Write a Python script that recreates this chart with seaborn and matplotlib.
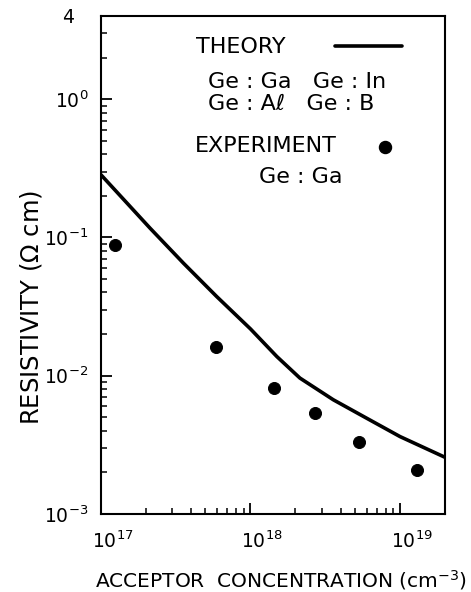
import numpy as np
import pandas as pd
import seaborn as sns
import matplotlib
matplotlib.use("Agg")
import matplotlib.pyplot as plt
from matplotlib.ticker import LogLocator, FixedLocator, FixedFormatter, NullFormatter
from matplotlib.transforms import ScaledTranslation

# Theory curve (Ge:Ga, Ge:In, Ge:Al, Ge:B)
theory_conc = [1.0e17, 2.13e17, 3.56e17, 5.94e17, 1.0e18, 1.50e18,
               2.14e18, 3.58e18, 5.98e18, 1.0e19, 2.0e19]
theory_rho = [0.284, 0.1167, 0.0652, 0.0374, 0.0218, 0.01377,
              0.00962, 0.0067, 0.00493, 0.00363, 0.00257]

# Experiment (Ge:Ga)
exp_conc = [1.25e17, 5.9e17, 1.44e18, 2.7e18, 5.3e18, 1.3e19]
exp_rho = [0.088, 0.0161, 0.0082, 0.0054, 0.00333, 0.00208]

x_ticks = [1e17, 1e18, 1e19]
x_ticklabels = [r"$10^{17}$", r"$10^{18}$", r"$10^{19}$"]
y_ticks = [1e-3, 1e-2, 1e-1, 1e0, 4]
y_ticklabels = [r"$10^{-3}$", r"$10^{-2}$", r"$10^{-1}$", r"$10^{0}$", "4"]

sns.set_style("ticks", {"axes.edgecolor": "black", "text.color": "black",
                        "axes.labelcolor": "black", "xtick.color": "black",
                        "ytick.color": "black"})
plt.rcParams['font.family'] = ['DejaVu Sans']
plt.rcParams['mathtext.fontset'] = 'dejavusans'

theory_df = pd.DataFrame({"conc": theory_conc, "rho": theory_rho})
exp_df = pd.DataFrame({"conc": exp_conc, "rho": exp_rho})

fig = plt.figure(figsize=(4.71, 5.92), dpi=100)
ax = fig.add_axes([0.2144, 0.1318, 0.7304, 0.8412])

sns.lineplot(data=theory_df, x="conc", y="rho", ax=ax, color="black", linewidth=2.6)
sns.scatterplot(data=exp_df, x="conc", y="rho", ax=ax, color="black", s=75,
                edgecolor="black", zorder=3)

ax.set_xscale("log")
ax.set_yscale("log")
ax.set_xlim(1e17, 2e19)
ax.set_ylim(1e-3, 4)

ax.xaxis.set_major_locator(FixedLocator(x_ticks))
ax.xaxis.set_major_formatter(FixedFormatter(x_ticklabels))
ax.xaxis.set_minor_locator(LogLocator(base=10, subs=np.arange(2, 10), numticks=20))
ax.xaxis.set_minor_formatter(NullFormatter())
ax.yaxis.set_major_locator(FixedLocator(y_ticks))
ax.yaxis.set_major_formatter(FixedFormatter(y_ticklabels))
ax.yaxis.set_minor_locator(LogLocator(base=10, subs=np.arange(2, 10), numticks=20))
ax.yaxis.set_minor_formatter(NullFormatter())

ax.tick_params(which="major", direction="in", length=8, width=1.3, labelsize=13.5,
               top=False, right=False, colors="black")
ax.tick_params(axis="x", which="major", pad=12)
ax.tick_params(axis="y", which="major", pad=9)
ax.tick_params(which="minor", direction="in", length=4, width=1.1, top=False, right=False,
               colors="black")
for s in ax.spines.values():
    s.set_linewidth(1.5)
    s.set_color("black")
    s.set_visible(True)

# shift x tick labels so the base "10" sits under the tick
for lbl in ax.get_xticklabels():
    lbl.set_horizontalalignment("left")
    lbl.set_transform(lbl.get_transform() + ScaledTranslation(-9 / 100, 0, fig.dpi_scale_trans))
ylbls = ax.get_yticklabels()
ylbls[-1].set_transform(ylbls[-1].get_transform() + ScaledTranslation(-14 / 100, 0, fig.dpi_scale_trans))

ax.set_xlabel(r"ACCEPTOR  CONCENTRATION (cm$^{-3}$)", fontsize=14.5)
ax.xaxis.set_label_coords(0.523, -0.108)
ax.set_ylabel(r"RESISTIVITY ($\Omega$ cm)", fontsize=17.5)
ax.yaxis.set_label_coords(-0.166, 0.4157)

# In-plot legend annotations
tf = dict(fontsize=16, color="black", transform=ax.transAxes)
ax.text(0.275, 0.938, "THEORY", ha="left", va="center", **tf)
ax.plot([0.68, 0.875], [0.940, 0.940], color="black", lw=2.6, transform=ax.transAxes)
ax.text(0.31, 0.868, "Ge : Ga   Ge : In", ha="left", va="center", **tf)
ax.text(0.31, 0.824, "Ge : Aℓ   Ge : B", ha="left", va="center", **tf)
ax.text(0.273, 0.738, "EXPERIMENT", ha="left", va="center", **tf)
ax.scatter([0.827], [0.736], s=75, color="black", transform=ax.transAxes)
ax.text(0.46, 0.676, "Ge : Ga", ha="left", va="center", **tf)

fig.savefig("out.png", dpi=100)
